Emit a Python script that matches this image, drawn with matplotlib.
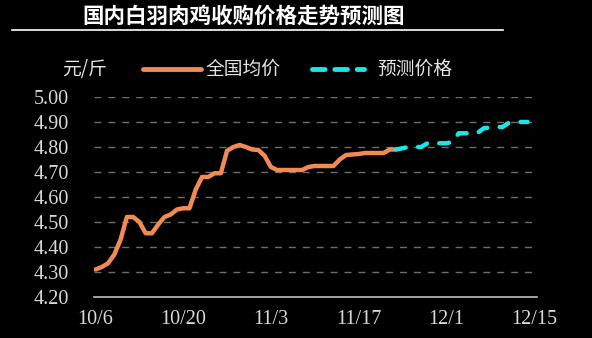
import matplotlib
matplotlib.use("Agg")
import matplotlib.pyplot as plt
from matplotlib.lines import Line2D

plt.rcParams['font.family'] = ['Noto Sans CJK SC', 'DejaVu Sans']

title = "国内白羽肉鸡收购价格走势预测图"
unit_label = "元/斤"
series_actual_name = "全国均价"
series_forecast_name = "预测价格"

# day offsets from 10/6
actual_days = list(range(0, 49))
actual_values = [
    4.31, 4.32, 4.335, 4.37, 4.43, 4.52, 4.52, 4.50, 4.455, 4.455,
    4.49, 4.52, 4.53, 4.55, 4.555, 4.555, 4.63, 4.68, 4.68, 4.695,
    4.695, 4.785, 4.80, 4.808, 4.80, 4.79, 4.788, 4.765, 4.72, 4.708,
    4.708, 4.708, 4.708, 4.708, 4.72, 4.724, 4.724, 4.724, 4.724, 4.75,
    4.768, 4.77, 4.772, 4.776, 4.776, 4.776, 4.776, 4.79, 4.79,
]
forecast_days = list(range(48, 70))
forecast_values = [
    4.79, 4.795, 4.80, 4.80, 4.80, 4.815, 4.815, 4.815, 4.815, 4.82,
    4.855, 4.855, 4.855, 4.856, 4.875, 4.878, 4.88, 4.88, 4.897, 4.90,
    4.90, 4.90,
]
x_tick_days = [0, 14, 28, 42, 56, 70]
x_tick_labels = ["10/6", "10/20", "11/3", "11/17", "12/1", "12/15"]
y_ticks = [4.20, 4.30, 4.40, 4.50, 4.60, 4.70, 4.80, 4.90, 5.00]

W, H = 592, 338
fig = plt.figure(figsize=(W / 100, H / 100), dpi=100, facecolor="black")

ax_l, ax_r, ax_t, ax_b = 94, 537, 97, 297
ax = fig.add_axes([ax_l / W, 1 - ax_b / H, (ax_r - ax_l) / W, (ax_b - ax_t) / H])
ax.set_facecolor("black")

orange = "#F28A54"
cyan = "#19E6E6"

for y in y_ticks[1:]:
    ax.axhline(y, color="#6e6e6e", lw=1.0, ls=(0, (5, 5)), zorder=1)

ax.plot(actual_days, actual_values, color=orange, lw=3.2, solid_capstyle="round",
        solid_joinstyle="round", zorder=3)
ax.plot(forecast_days, forecast_values, color=cyan, lw=3.2, ls=(0, (2.2, 2.8)),
        dash_capstyle="round", zorder=3)

ax.set_xlim(-0.25, 70.5)
ax.set_ylim(4.2, 5.0)
ax.set_xticks(x_tick_days)
ax.set_xticklabels(x_tick_labels)
ax.set_yticks(y_ticks)
ax.set_yticklabels([f"{v:.2f}" for v in y_ticks])

for s in ["top", "right", "left"]:
    ax.spines[s].set_visible(False)
ax.spines["bottom"].set_color("#bfbfbf")
ax.spines["bottom"].set_linewidth(1.2)
ax.tick_params(axis="both", length=0, colors="#d9d9d9")
ax.tick_params(axis="y", pad=18)
ax.tick_params(axis="x", pad=9)
for lab in ax.get_xticklabels() + ax.get_yticklabels():
    lab.set_fontfamily(["Liberation Serif", "DejaVu Serif"])
    lab.set_fontsize(14.5)
    lab.set_color("#d9d9d9")

# title and rule
fig.text(244 / W, 1 - 16 / H, title, color="white", fontsize=15.5, fontweight="bold",
         ha="center", va="center")
fig.add_artist(Line2D([12 / W, 503 / W], [1 - 30 / H, 1 - 30 / H], color="white", lw=1.2,
                      transform=fig.transFigure))

# legend row
ly = 1 - 69 / H
fig.text(62 / W, ly, unit_label, color="#e6e6e6", fontsize=13.5, ha="left", va="center")
fig.add_artist(Line2D([143 / W, 201 / W], [ly, ly], color=orange, lw=3.5,
                      solid_capstyle="round", transform=fig.transFigure))
fig.text(206 / W, ly, series_actual_name, color="#e6e6e6", fontsize=13.5, ha="left", va="center")
fig.add_artist(Line2D([312 / W, 364 / W], [ly, ly], color=cyan, lw=3.5,
                      ls=(0, (2.6, 2.0)), dash_capstyle="round", transform=fig.transFigure))
fig.text(377 / W, ly, series_forecast_name, color="#e6e6e6", fontsize=13.5, ha="left", va="center")

fig.savefig("out.png", dpi=100, facecolor="black")
